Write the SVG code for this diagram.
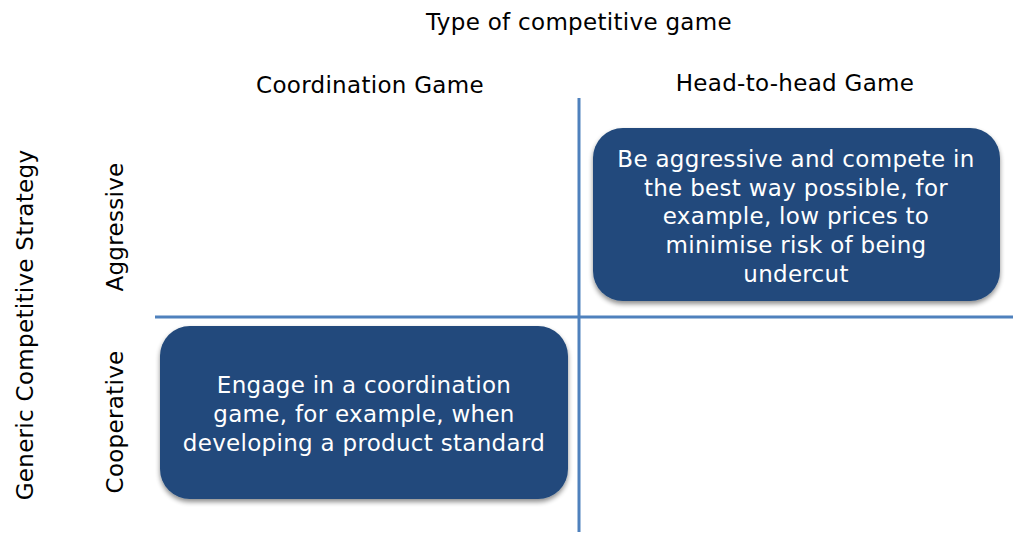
<svg xmlns="http://www.w3.org/2000/svg" width="1024" height="555" viewBox="0 0 1024 555">
<style>
text{font-family:"DejaVu Sans","Verdana",sans-serif;font-size:23px;letter-spacing:0.3px;text-anchor:middle}
.lbl{fill:#000}
.box{fill:#21497B}
.bt{fill:#fff}
.axis{stroke:#4F81BD;stroke-width:3;fill:none}
</style>
<defs>
<filter id="sh" x="-10%" y="-10%" width="120%" height="130%">
<feGaussianBlur in="SourceAlpha" stdDeviation="2.5"/>
<feOffset dx="0" dy="3" result="b"/>
<feComponentTransfer><feFuncA type="linear" slope="0.45"/></feComponentTransfer>
<feMerge><feMergeNode/><feMergeNode in="SourceGraphic"/></feMerge>
</filter>
</defs>
<rect width="1024" height="555" fill="#fff"/>
<g id="connectors">
<line class="axis" x1="579" y1="98" x2="579" y2="532"/>
<line class="axis" x1="155" y1="317" x2="1013" y2="317"/>
</g>
<g id="labels">
<text class="lbl" x="579" y="30">Type of competitive game</text>
<text class="lbl" x="370" y="93">Coordination Game</text>
<text class="lbl" x="795" y="91">Head-to-head Game</text>
<text class="lbl" transform="translate(33,325) rotate(-90)">Generic Competitive Strategy</text>
<text class="lbl" transform="translate(123,227) rotate(-90)">Aggressive</text>
<text class="lbl" transform="translate(123,422) rotate(-90)">Cooperative</text>
</g>
<g id="node-aggressive">
<rect class="box" x="593" y="128" width="407" height="173" rx="30" filter="url(#sh)"/>
<text class="bt" x="796" y="167">Be aggressive and compete in</text>
<text class="bt" x="796" y="196">the best way possible, for</text>
<text class="bt" x="796" y="224">example, low prices to</text>
<text class="bt" x="796" y="253">minimise risk of being</text>
<text class="bt" x="796" y="282">undercut</text>
</g>
<g id="node-cooperative">
<rect class="box" x="160" y="326" width="408" height="173" rx="30" filter="url(#sh)"/>
<text class="bt" x="364" y="393">Engage in a coordination</text>
<text class="bt" x="364" y="422">game, for example, when</text>
<text class="bt" x="364" y="451">developing a product standard</text>
</g>
</svg>
